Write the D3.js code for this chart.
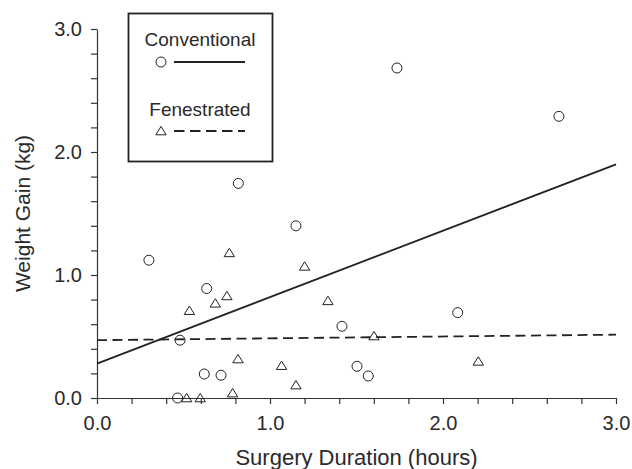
<!DOCTYPE html>
<html>
<head>
<meta charset="utf-8">
<script src="https://cdn.jsdelivr.net/npm/d3@7"></script>
<style>
  body { margin: 0; background: #fff; }
  svg { display: block; }
  text { font-family: "Liberation Sans", Arial, Helvetica, sans-serif; fill: #2a2a2a; }
</style>
</head>
<body>
<svg id="chart" width="632" height="469"></svg>
<script>
// Conventional group (circles)
var conv_x = [0.30, 0.634, 0.48, 0.62, 0.717, 0.466, 0.817, 1.15, 1.734, 2.67, 1.416, 1.503, 1.568, 2.085];
var conv_y = [1.12, 0.89, 0.47, 0.195, 0.185, 0.0, 1.745, 1.40, 2.683, 2.29, 0.583, 0.258, 0.179, 0.694];

// Fenestrated group (triangles)
var fen_x = [0.765, 0.534, 0.684, 0.751, 0.815, 1.067, 1.15, 1.20, 0.518, 0.597, 0.784, 1.335, 1.601, 2.204];
var fen_y = [1.18, 0.71, 0.77, 0.83, 0.317, 0.263, 0.105, 1.07, 0.0, 0.0, 0.04, 0.79, 0.504, 0.298];

// fitted lines (x, y at ends)
var conv_fit = [[0, 0.28], [3, 1.90]];
var fen_fit = [[0, 0.47], [3, 0.515]];

var x_ticks = [0, 0.2, 0.4, 0.6, 0.8, 1.0, 1.2, 1.4, 1.6, 1.8, 2.0, 2.2, 2.4, 2.6, 2.8, 3.0];
var y_ticks = x_ticks;
var legend_labels = ["Conventional", "Fenestrated"];

var svg = d3.select("#chart");
var m_left = 97, m_right = 616, m_top = 29, m_bottom = 398;
var ink = "#222";

var x = d3.scaleLinear().domain([0, 3]).range([m_left, m_right]);
var y = d3.scaleLinear().domain([0, 3]).range([m_bottom, m_top]);

var tick_fmt = function(d) {
  return Math.abs(d - Math.round(d)) < 1e-6 ? d3.format(".1f")(d) : "";
};

var xa = svg.append("g")
  .attr("transform", "translate(0," + m_bottom + ")")
  .call(d3.axisBottom(x).tickValues(x_ticks).tickFormat(tick_fmt).tickSize(6).tickSizeOuter(0).tickPadding(12));

var ya = svg.append("g")
  .attr("transform", "translate(" + m_left + ",0)")
  .call(d3.axisLeft(y).tickValues(y_ticks).tickFormat(tick_fmt).tickSize(6).tickSizeOuter(0).tickPadding(9));

[xa, ya].forEach(function(a) {
  a.selectAll("path, line").attr("stroke", "#333").attr("stroke-width", 1.2);
  a.selectAll("text").style("font-size", "20px").attr("fill", "#2a2a2a");
});

svg.append("text")
  .attr("x", (m_left + m_right) / 2)
  .attr("y", 465)
  .attr("text-anchor", "middle")
  .style("font-size", "22px")
  .text("Surgery Duration (hours)");

svg.append("text")
  .attr("transform", "translate(30," + (m_top + m_bottom) / 2 + ") rotate(-90)")
  .attr("text-anchor", "middle")
  .style("font-size", "21px")
  .text("Weight Gain (kg)");

// fit lines
var line = d3.line().x(function(d) { return x(d[0]); }).y(function(d) { return y(d[1]); });

svg.append("path").datum(conv_fit)
  .attr("d", line).attr("fill", "none").attr("stroke", ink).attr("stroke-width", 1.8);

svg.append("path").datum(fen_fit)
  .attr("d", line).attr("fill", "none").attr("stroke", ink).attr("stroke-width", 1.8)
  .attr("stroke-dasharray", "10,5.5");

// markers
var tri = "M0,-4.6L5.2,3.8L-5.2,3.8Z";

svg.append("g").selectAll("circle")
  .data(d3.range(conv_x.length))
  .join("circle")
  .attr("cx", function(i) { return x(conv_x[i]); })
  .attr("cy", function(i) { return y(conv_y[i]); })
  .attr("r", 5)
  .attr("fill", "none")
  .attr("stroke", ink)
  .attr("stroke-width", 1);

svg.append("g").selectAll("path")
  .data(d3.range(fen_x.length))
  .join("path")
  .attr("d", tri)
  .attr("transform", function(i) { return "translate(" + x(fen_x[i]) + "," + y(fen_y[i]) + ")"; })
  .attr("fill", "none")
  .attr("stroke", ink)
  .attr("stroke-width", 1);

// legend
var lg = svg.append("g");
lg.append("rect")
  .attr("x", 128.5).attr("y", 13.5).attr("width", 144).attr("height", 148)
  .attr("fill", "#fff").attr("stroke", ink).attr("stroke-width", 1.8);

lg.append("text").attr("x", 200).attr("y", 46).attr("text-anchor", "middle")
  .style("font-size", "19px").text(legend_labels[0]);
lg.append("circle").attr("cx", 161).attr("cy", 62).attr("r", 5)
  .attr("fill", "none").attr("stroke", ink).attr("stroke-width", 1);
lg.append("line").attr("x1", 174).attr("x2", 245).attr("y1", 62).attr("y2", 62)
  .attr("stroke", ink).attr("stroke-width", 1.8);

lg.append("text").attr("x", 200).attr("y", 116).attr("text-anchor", "middle")
  .style("font-size", "19px").text(legend_labels[1]);
lg.append("path").attr("d", tri).attr("transform", "translate(161,131)")
  .attr("fill", "none").attr("stroke", ink).attr("stroke-width", 1);
lg.append("line").attr("x1", 174).attr("x2", 245).attr("y1", 131).attr("y2", 131)
  .attr("stroke", ink).attr("stroke-width", 1.8).attr("stroke-dasharray", "10.5,5.5");
</script>
</body>
</html>
